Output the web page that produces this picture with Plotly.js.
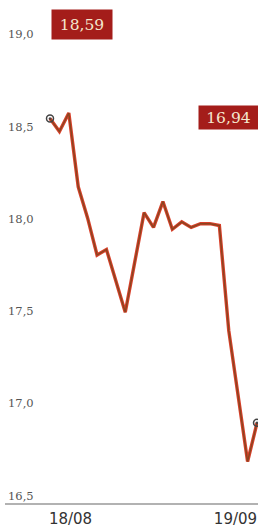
<!DOCTYPE html>
<html>
<head>
<meta charset="utf-8">
<script src="https://cdn.plot.ly/plotly-3.0.1.min.js"></script>
<style>
html,body{margin:0;padding:0;background:#fff;}
#chart{width:258px;height:528px;}
</style>
</head>
<body>
<div id="chart"></div>
<script>
// Daily price, 18/08 to 19/09
const dayIndex = [0,1,2,3,4,5,6,7,8,9,10,11,12,13,14,15,16,17,18,19,20,21,22];
const prices = [18.59,18.52,18.62,18.22,18.05,17.85,17.88,17.71,17.54,17.81,18.08,18.00,18.14,17.99,18.03,18.00,18.02,18.02,18.01,17.44,17.09,16.73,16.94];
const xTickLabels = ["18/08","19/09"];
const yTickValues = [16.5,17.0,17.5,18.0,18.5,19.0];

const fmt = (v, d) => v.toFixed(d).replace('.', ',');
const firstIdx = 0, lastIdx = prices.length - 1;

const traces = [
  {x: dayIndex, y: prices, type:'scatter', mode:'lines', cliponaxis:false,
   line:{color:'#d8402a', width:3.4}, hoverinfo:'skip'},
  {x: dayIndex, y: prices, type:'scatter', mode:'lines', cliponaxis:false,
   line:{color:'#8a4520', width:1.4}, hoverinfo:'skip'},
  {x: [dayIndex[firstIdx], dayIndex[lastIdx]], y: [prices[firstIdx], prices[lastIdx]],
   type:'scatter', mode:'markers', cliponaxis:false,
   marker:{symbol:'circle-open-dot', size:7, color:'#444', line:{width:1.5, color:'#444'}}}
];

const L = 39, W = 258, PH = 504;
const yLabelAnn = yTickValues.map(v => ({
  xref:'paper', yref:'y', x:(36-L)/(W-L), y:v, xanchor:'right', yanchor:'middle',
  yshift:8.5, text:fmt(v,1), showarrow:false,
  font:{family:'DejaVu Serif', size:11.5, color:'#555'}
}));

const layout = {
  width:258, height:528,
  margin:{l:L, r:0, t:0, b:24, pad:0},
  paper_bgcolor:'#fff', plot_bgcolor:'#fff',
  showlegend:false,
  separators:',.',
  xaxis:{
    range:[-1.169, 22.106], showgrid:false, zeroline:false, showline:false,
    tickmode:'array', tickvals:[2.18, 19.71], ticktext:xTickLabels,
    ticks:'', ticklabelstandoff:4, tickfont:{family:'DejaVu Sans', size:15, color:'#333'}
  },
  yaxis:{
    range:[16.5, 19.233], showgrid:false, zeroline:false, showline:false,
    showticklabels:false, ticks:''
  },
  shapes:[
    {type:'line', xref:'paper', yref:'paper', x0:(5-L)/(W-L), x1:1, y0:0, y1:0,
     line:{color:'#999', width:1.5}}
  ],
  annotations:yLabelAnn.concat([
    {xref:'paper', yref:'paper', x:(51-L)/(W-L), y:1-9/PH, xanchor:'left', yanchor:'top',
     text:fmt(prices[firstIdx],2), showarrow:false, width:60, height:29, borderpad:0,
     bgcolor:'#a41d1a', font:{family:'DejaVu Serif', size:15.5, color:'#f4e8cf'}},
    {xref:'paper', yref:'paper', x:(198-L)/(W-L), y:1-105/PH, xanchor:'left', yanchor:'top',
     text:fmt(prices[lastIdx],2), showarrow:false, width:59, height:23, borderpad:0,
     bgcolor:'#a41d1a', font:{family:'DejaVu Serif', size:15.5, color:'#f4e8cf'}}
  ])
};

Plotly.newPlot('chart', traces, layout, {staticPlot:true, displayModeBar:false});
</script>
</body>
</html>
